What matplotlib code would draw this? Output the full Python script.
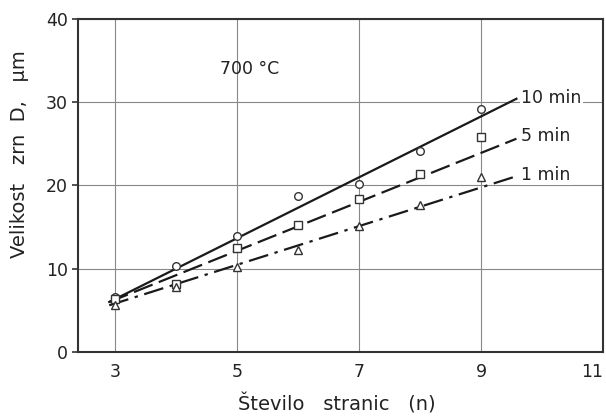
import numpy as np
import matplotlib
matplotlib.use("Agg")
import matplotlib.pyplot as plt

# measured points (number of sides vs grain size)
n_sides = [3, 4, 5, 6, 7, 8, 9]
d_10min = [6.6, 10.3, 13.9, 18.7, 20.2, 24.1, 29.2]
d_5min = [6.3, 8.1, 12.5, 15.3, 18.4, 21.4, 25.8]
d_1min = [5.6, 7.8, 10.2, 12.3, 15.1, 17.6, 21.0]

# fitted lines (end points)
fit_x = [2.9, 9.58]
fit_10min = [6.0, 30.4]
fit_5min = [6.0, 25.6]
fit_1min = [5.6, 21.1]

labels = ["10 min", "5 min", "1 min"]
label_y = [30.5, 25.9, 21.3]

plt.rcParams['font.family'] = ['DejaVu Sans']

fig = plt.figure(figsize=(6.06, 4.18), dpi=100)
ax = fig.add_axes([0.129, 0.158, 0.866, 0.797])

ax.set_xlim(2.39, 11)
ax.set_ylim(0, 40)
ax.set_xticks([3, 5, 7, 9, 11])
ax.set_yticks([0, 10, 20, 30, 40])
ax.grid(True, color='#888888', lw=0.8)
ax.set_axisbelow(True)

k = dict(color='#1a1a1a', lw=1.6)
ax.plot(fit_x, fit_10min, ls='-', **k)
ax.plot(fit_x, fit_5min, ls=(0, (9, 3)), **k)
ax.plot(fit_x, fit_1min, ls=(0, (9, 3, 1.5, 3)), **k)

mk = dict(ls='none', mfc='white', mec='#333333', mew=1.0, ms=5.5)
ax.plot(n_sides, d_10min, marker='o', **mk)
ax.plot(n_sides, d_5min, marker='s', **mk)
ax.plot(n_sides, d_1min, marker='^', **mk)

for lab, y in zip(labels, label_y):
    ax.text(9.66, y, lab, fontsize=12.5, va='center', ha='left', color='#222222',
            bbox=dict(facecolor='white', edgecolor='none', pad=1))

ax.text(5.2, 34, "700 °C", fontsize=12.5, ha='center', va='center', color='#222222')

for s in ax.spines.values():
    s.set_linewidth(1.5)
    s.set_color('#333333')
ax.tick_params(axis='both', labelsize=12.5, colors='#333333', labelcolor='#222222',
               length=4, width=1.2)
ax.tick_params(axis='x', length=0, pad=8)
ax.get_xticklabels()[-1].set_horizontalalignment('right')
ax.set_xlabel("Število   stranic   (n)", fontsize=14, color='#222222')
ax.set_ylabel("Velikost   zrn  D,   µm", fontsize=14, color='#222222')
ax.xaxis.set_label_coords(0.493, -0.125)
ax.yaxis.set_label_coords(-0.094, 0.595)

fig.savefig("out.png", dpi=100)
